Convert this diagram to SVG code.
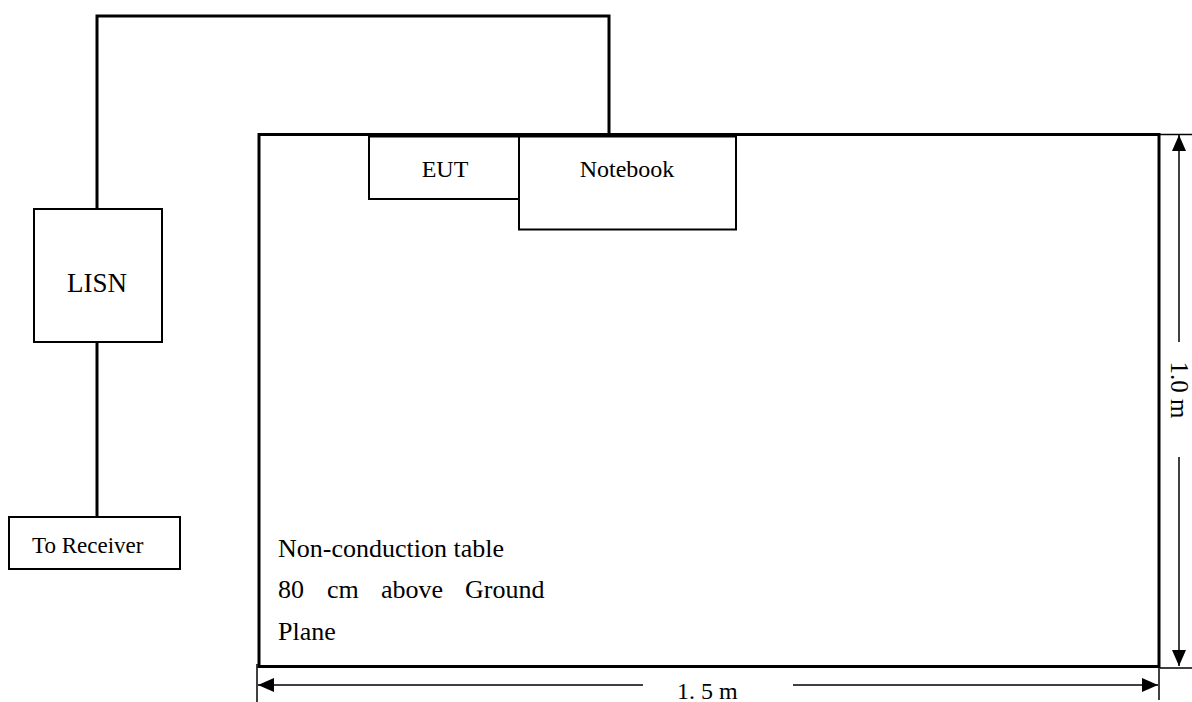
<svg xmlns="http://www.w3.org/2000/svg" width="1192" height="702" viewBox="0 0 1192 702">
<defs>
<style>
.txt{font-family:"Liberation Serif","Times New Roman",serif;fill:#000}
.box{fill:#fff;stroke:#000;stroke-width:2}
.wire{fill:none;stroke:#000;stroke-width:3}
.dim{fill:none;stroke:#000;stroke-width:1.5}
</style>
<marker id="ah" viewBox="0 0 16 14" refX="16" refY="7" markerWidth="16" markerHeight="14" markerUnits="userSpaceOnUse" orient="auto">
<path d="M0,0 L16,7 L0,14 Z" fill="#000"/>
</marker>
</defs>
<rect width="1192" height="702" fill="#fff"/>

<g id="connectors">
<polyline class="wire" points="609,134 609,16 97,16 97,209"/>
<line class="wire" x1="97" y1="342" x2="97" y2="517"/>
</g>

<g id="table">
<rect x="259" y="134.5" width="900" height="532" fill="#fff" stroke="#000" stroke-width="3"/>
<text class="txt" font-size="26" x="278" y="557">Non-conduction table</text>
<text class="txt" font-size="26" y="598"><tspan x="278">80</tspan><tspan x="327">cm</tspan><tspan x="381">above</tspan><tspan x="465">Ground</tspan></text>
<text class="txt" font-size="26" x="278" y="640">Plane</text>
</g>

<g id="eut">
<rect class="box" x="369" y="136.5" width="150" height="62.5"/>
<text class="txt" font-size="24" x="445" y="177" text-anchor="middle">EUT</text>
</g>

<g id="notebook">
<rect class="box" x="519" y="136.5" width="217" height="93"/>
<text class="txt" font-size="24" x="627" y="177" text-anchor="middle">Notebook</text>
</g>

<g id="lisn">
<rect class="box" x="34" y="209" width="128" height="133"/>
<text class="txt" font-size="27" x="97" y="292" text-anchor="middle">LISN</text>
</g>

<g id="receiver">
<rect class="box" x="9" y="517" width="171" height="52"/>
<text class="txt" font-size="23" x="32" y="553">To Receiver</text>
</g>

<g id="dimensions">
<line class="dim" x1="257" y1="664" x2="257" y2="702"/>
<line class="dim" x1="1159" y1="668" x2="1159" y2="700"/>
<line class="dim" x1="643" y1="685" x2="258" y2="685" marker-end="url(#ah)"/>
<line class="dim" x1="793" y1="685" x2="1158" y2="685" marker-end="url(#ah)"/>
<text class="txt" font-size="24" x="677" y="699">1. 5 m</text>
<line class="dim" x1="1160" y1="134.5" x2="1192" y2="134.5"/>
<line class="dim" x1="1160" y1="668" x2="1192" y2="668"/>
<line class="dim" x1="1179" y1="342" x2="1179" y2="135" marker-end="url(#ah)"/>
<line class="dim" x1="1179" y1="457" x2="1179" y2="666" marker-end="url(#ah)"/>
<text class="txt" font-size="25" text-anchor="middle" transform="translate(1171,390) rotate(90)">1.0 m</text>
</g>
</svg>
